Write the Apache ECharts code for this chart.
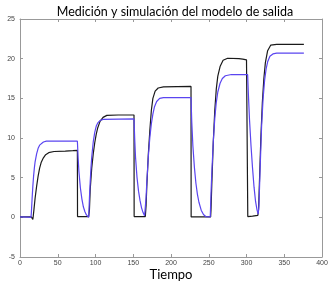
<!DOCTYPE html>
<html>
<head>
<meta charset="utf-8">
<script src="https://cdn.jsdelivr.net/npm/echarts@6/dist/echarts.min.js"></script>
<style>
  html, body { margin: 0; padding: 0; background: #fff; }
  #chart { width: 335px; height: 286px; }
</style>
</head>
<body>
<div id="chart"></div>
<script>
// valores: [tiempo, salida]
const medicion = [
  [0, 0.05], [15, 0.05], [16.5, -0.1], [17, -0.25], [17.5, 0.1], [18.5, 1.0], [20, 2.4],
  [22, 3.9], [24, 5.2], [26, 6.2], [28, 6.9], [31, 7.5], [34, 7.9], [38, 8.15], [45, 8.3],
  [60, 8.35], [70, 8.4], [76, 8.45], [76.2, 0.1], [91, 0.1], [92, 1.0], [93, 3.5], [95, 6.2],
  [97, 8.0], [99, 9.4], [101, 10.5], [103, 11.3], [106, 12.1], [110, 12.6], [115, 12.85],
  [130, 12.9], [151, 12.9], [151.2, 0.1], [166, 0.1], [167, 1.5], [168, 4], [170, 8.0],
  [172, 11], [174, 13.5], [176, 15.0], [179, 15.9], [183, 16.3], [190, 16.45], [226.5, 16.5],
  [226.7, 0.05], [252.5, 0.05], [253, 1], [254, 4], [256, 9.5], [258, 13.5], [260, 16.2],
  [262, 17.8], [265, 19.0], [269, 19.8], [275, 20.05], [290, 20.0], [295, 19.95], [300, 19.85],
  [301.5, 20.0], [301.7, 0.1], [308, 0.15], [309, 0.25], [315, 0.25], [316, 1], [317, 4],
  [319, 10], [321, 14.5], [323, 17.5], [325, 19.5], [328, 21.0], [332, 21.7], [340, 21.8],
  [376, 21.8]
]
const simulacion = [
  [0, 0.05], [10, 0.02], [14.5, 0], [15, 0.5], [16, 2.3], [17, 3.9], [18, 5.2], [19, 6.2],
  [20, 7.0], [22, 8.0], [24, 8.7], [26, 9.1], [28, 9.35], [31, 9.5], [35, 9.6], [76, 9.6],
  [77, 7.5], [78, 5.8], [80, 3.7], [82, 2.3], [84, 1.3], [86, 0.7], [88, 0.3], [90, 0.1],
  [91, 0], [92, 2.5], [93, 4.5], [94, 6.2], [95, 7.6], [97, 9.5], [99, 10.7], [101, 11.5],
  [103, 11.9], [106, 12.2], [110, 12.35], [151, 12.4], [152, 9.7], [153, 7.6], [155, 5.0],
  [157, 3.3], [159, 2.1], [161, 1.2], [163, 0.6], [165, 0.2], [166.5, 0.05], [167, 2.5],
  [168, 4.5], [170, 7.7], [172, 10.1], [174, 11.8], [176, 13.0], [178, 13.9], [181, 14.6],
  [185, 15.0], [190, 15.1], [226.5, 15.1], [227.5, 12], [229, 9.0], [231, 6.3], [233, 4.3],
  [235, 2.9], [237, 1.9], [240, 0.9], [243, 0.35], [246, 0.1], [252, 0.05], [253, 3],
  [254, 5.5], [256, 9.5], [258, 12.5], [260, 14.5], [262, 15.8], [265, 16.9], [268, 17.5],
  [272, 17.85], [280, 18.0], [301.5, 18.0], [302.5, 15.5], [304, 12.3], [306, 9.0], [308, 6.2],
  [310, 3.8], [312, 2.0], [314, 0.9], [315.5, 0.4], [316.5, 1.5], [318, 6], [320, 11.5],
  [322, 15.0], [324, 17.3], [326, 18.7], [328, 19.6], [331, 20.3], [335, 20.6], [340, 20.7],
  [376, 20.7]
]
const xTicks = [0, 400, 50]
const yTicks = [-5, 25, 5]

const myChart = echarts.init(document.getElementById('chart'))
const tickFont = { fontSize: 7, color: '#444', fontFamily: 'Liberation Sans' }
const boxLine = { show: true, onZero: false, lineStyle: { color: '#999', width: 1 } }
const boxTick = { inside: true, length: 3, lineStyle: { color: '#999' } }
const option = {
  animation: false,
  title: {
    text: 'Medición y simulación del modelo de salida',
    left: 170,
    textAlign: 'center',
    top: 0,
    textStyle: { fontSize: 12.5, fontWeight: 'normal', color: '#000', fontFamily: 'Lato' }
  },
  grid: { left: 20, right: 13, top: 19, bottom: 29, outerBoundsMode: 'none', containLabel: false },
  xAxis: [
    {
      type: 'value', min: xTicks[0], max: xTicks[1], interval: xTicks[2],
      name: 'Tiempo', nameLocation: 'middle', nameGap: 11, nameMoveOverlap: false,
      nameTextStyle: { fontSize: 13, color: '#000', fontFamily: 'Lato' },
      axisLine: boxLine,
      axisTick: boxTick,
      axisLabel: Object.assign({ margin: 3 }, tickFont),
      splitLine: { show: false }
    },
    {
      type: 'value', position: 'top', min: xTicks[0], max: xTicks[1], interval: xTicks[2],
      axisLine: boxLine,
      axisTick: boxTick,
      axisLabel: { show: false },
      splitLine: { show: false }
    }
  ],
  yAxis: [
    {
      type: 'value', min: yTicks[0], max: yTicks[1], interval: yTicks[2],
      axisLine: boxLine,
      axisTick: boxTick,
      axisLabel: Object.assign({ margin: 5 }, tickFont),
      splitLine: { show: false }
    },
    {
      type: 'value', position: 'right', min: yTicks[0], max: yTicks[1], interval: yTicks[2],
      axisLine: boxLine,
      axisTick: boxTick,
      axisLabel: { show: false },
      splitLine: { show: false }
    }
  ],
  series: [
    {
      name: 'Medición',
      type: 'line',
      data: medicion,
      showSymbol: false,
      lineStyle: { color: '#1a1a1a', width: 1.2 }
    },
    {
      name: 'Simulación',
      type: 'line',
      data: simulacion,
      showSymbol: false,
      lineStyle: { color: '#5a45f0', width: 1.2 }
    }
  ]
}
myChart.setOption(option)
</script>
</body>
</html>
